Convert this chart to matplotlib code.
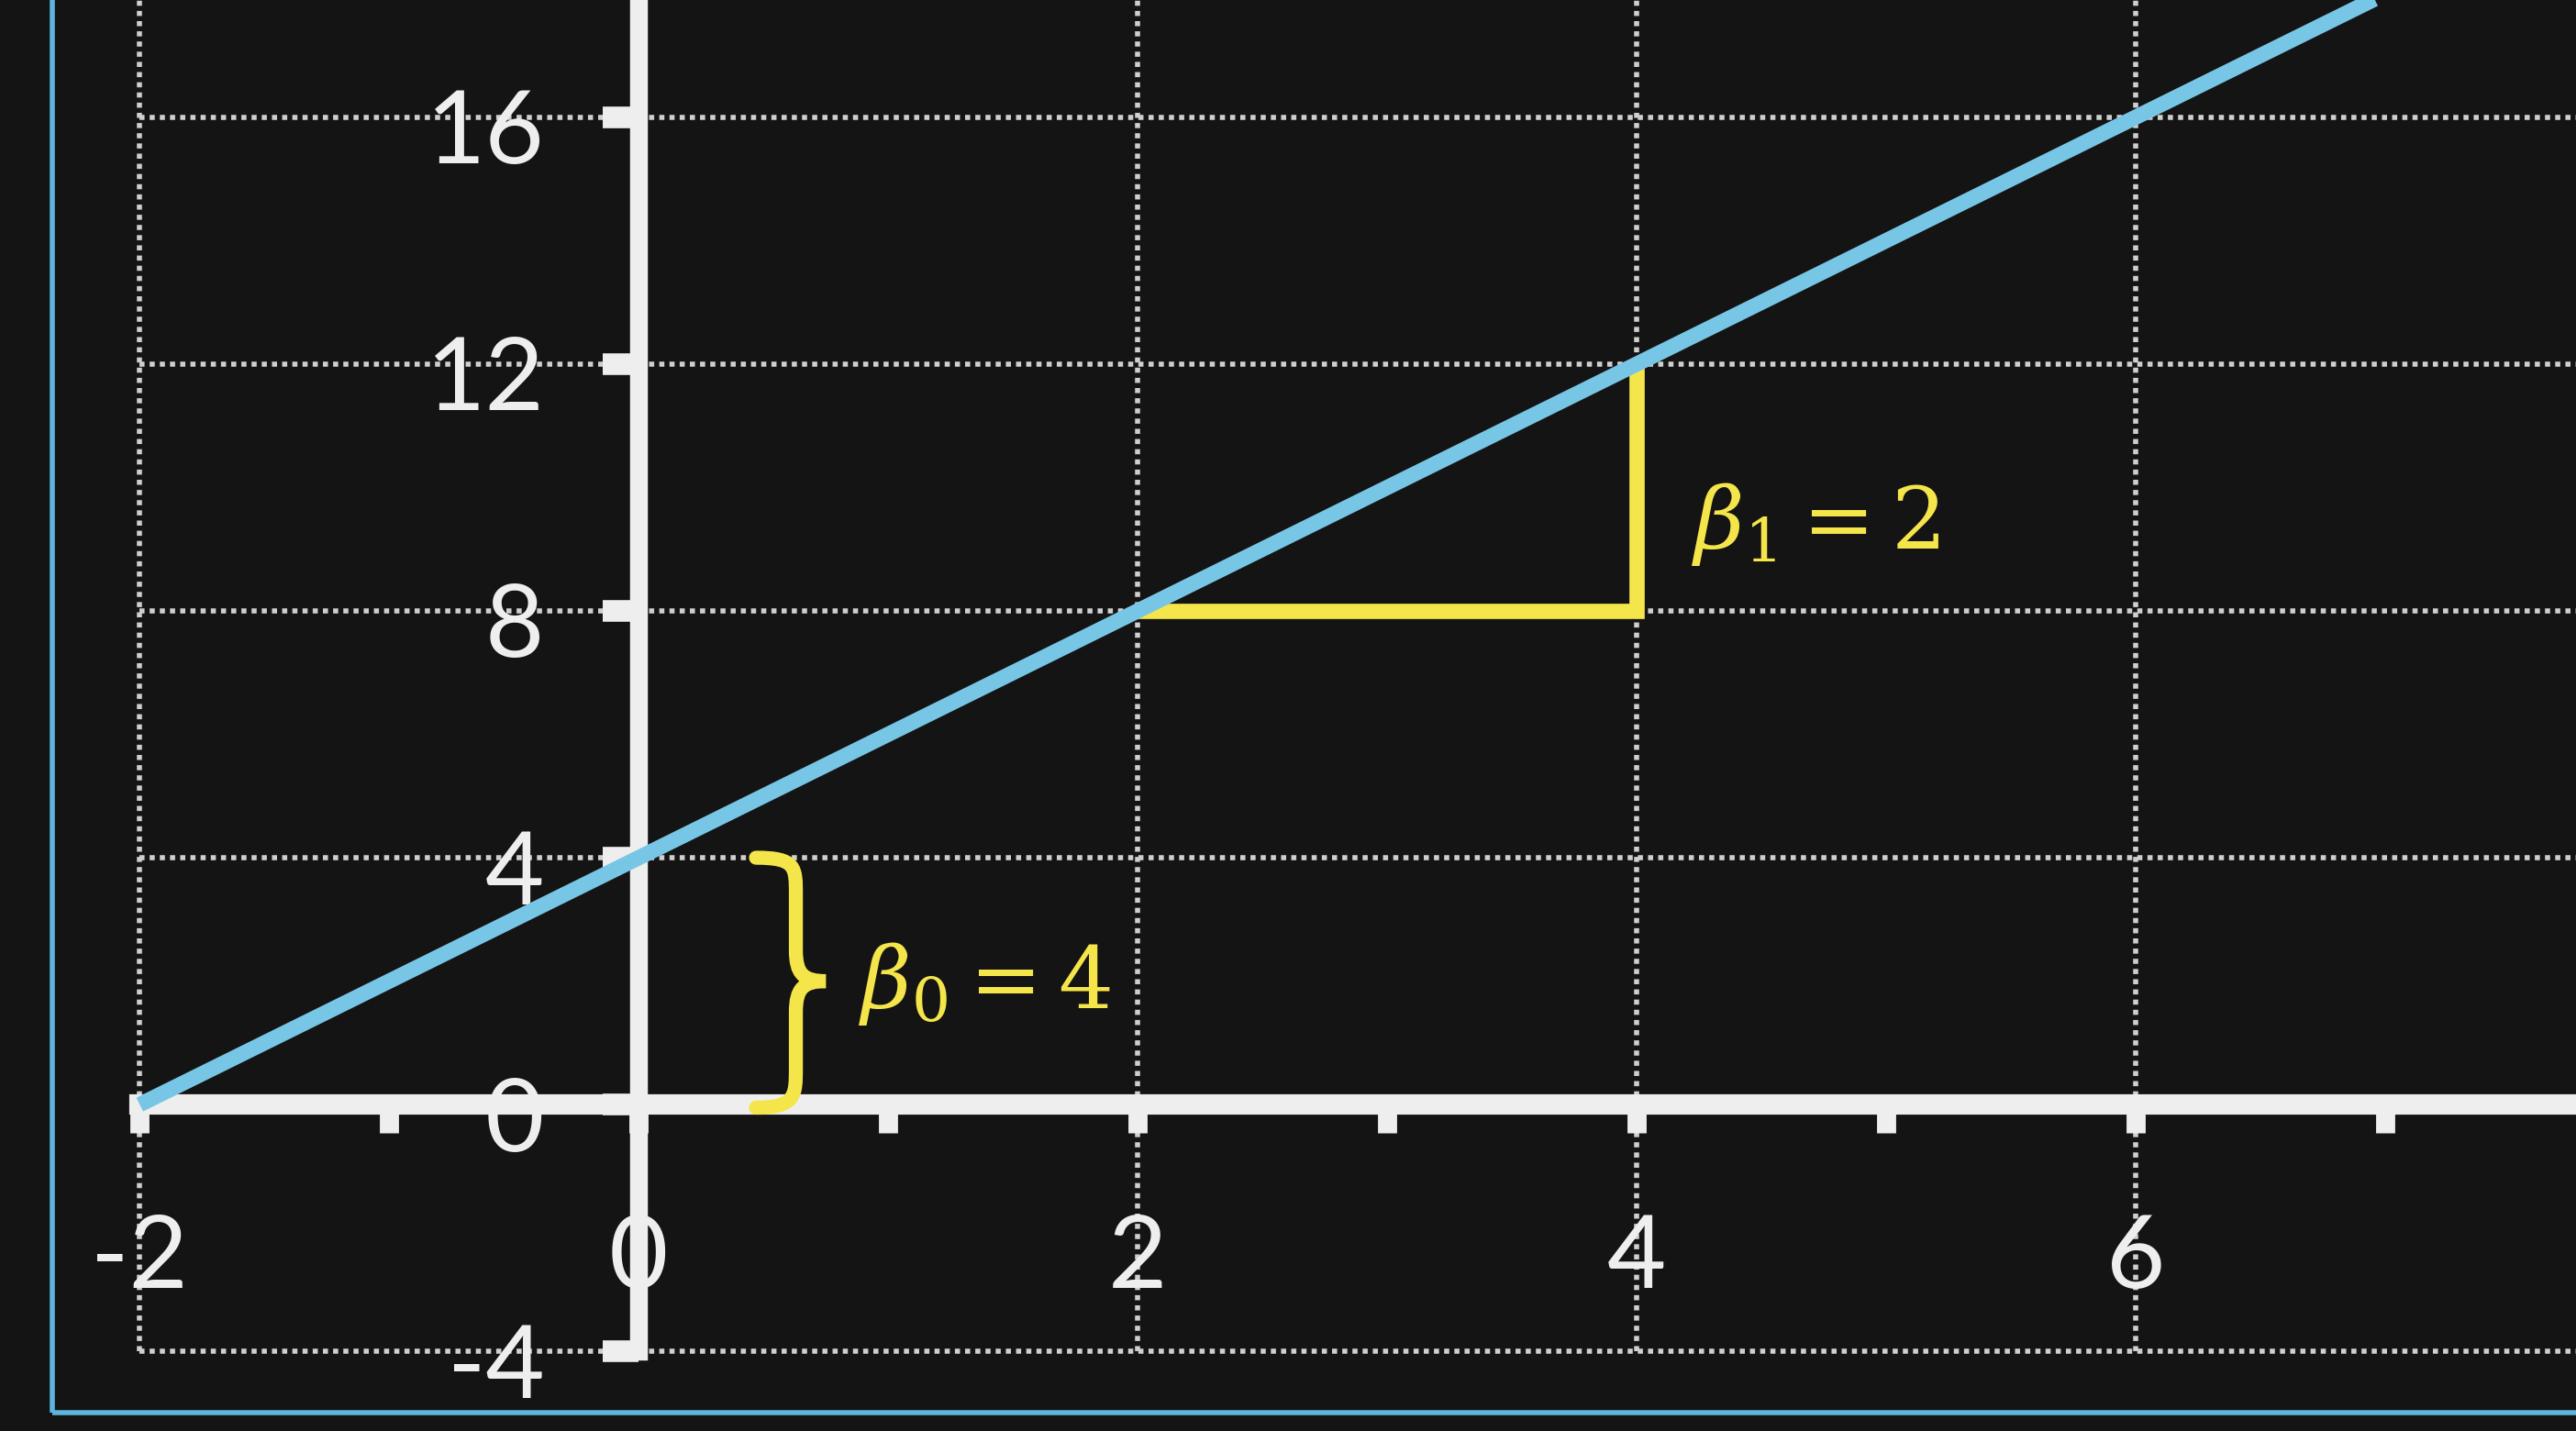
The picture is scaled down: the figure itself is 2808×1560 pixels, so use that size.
import matplotlib
matplotlib.use("Agg")
import matplotlib.pyplot as plt
from matplotlib.path import Path
from matplotlib.patches import PathPatch
from matplotlib.transforms import ScaledTranslation

b0 = 4                      # intercept
b1 = 2                      # slope
line_x = [-2, 8]            # fitted line drawn over this x range
x_major = [-2, 0, 2, 4, 6]
x_minor = [-1, 1, 3, 5, 7]
y_ticks = [-4, 0, 4, 8, 12, 16]
grid_x = [-2, 0, 2, 4, 6]
grid_y = [-4, 4, 8, 12, 16]
run_x = [2, 4]              # slope triangle
label_b0 = r"$\beta_{\mathit{0}} = 4$"
label_b1 = r"$\beta_{\mathit{1}} = 2$"

XLIM = (-2.56, 7.765)
YLIM = (-5.29, 17.9)

BG = "#141414"
CHALK = "#eeeeee"
BLUE = "#78c6e6"
FRAME = "#5db4dc"
YELLOW = "#f4e64a"
TICK_FONT = ["Lato", "DejaVu Sans"]

plt.rcParams["mathtext.fontset"] = "dejavuserif"

fig = plt.figure(figsize=(28.08, 15.6), dpi=100)
fig.patch.set_facecolor(BG)
ax = fig.add_axes([0, 0, 1, 1])
ax.set_facecolor(BG)
ax.set_xlim(*XLIM)
ax.set_ylim(*YLIM)

# dotted grid, starting at the lower-left corner (-2, -4)
ax.vlines(grid_x, grid_y[0], YLIM[1], colors="#cfcfcf", linewidth=4,
          linestyles=(0, (1, 1.0)), zorder=1)
ax.hlines(grid_y, grid_x[0], XLIM[1], colors="#cfcfcf", linewidth=4,
          linestyles=(0, (1, 1.0)), zorder=1)

# blue board frame
ax.plot([-2.35, -2.35], [-5.0, YLIM[1]], color=FRAME, linewidth=4, zorder=2,
        solid_capstyle="butt")
ax.plot([-2.35, XLIM[1]], [-5.0, -5.0], color=FRAME, linewidth=4, zorder=2,
        solid_capstyle="butt")

# axes through the origin
for side in ("top", "right"):
    ax.spines[side].set_visible(False)
ax.spines["left"].set_position(("data", 0))
ax.spines["left"].set_bounds(-4, YLIM[1])
ax.spines["bottom"].set_position(("data", 0))
ax.spines["bottom"].set_bounds(-2, XLIM[1])
ax.spines["left"].set_linewidth(14)
ax.spines["bottom"].set_linewidth(16)
for side in ("left", "bottom"):
    ax.spines[side].set_color(CHALK)
    ax.spines[side].set_zorder(3)
    ax.spines[side].set_capstyle("projecting")

ax.set_yticks(y_ticks)
ax.set_yticklabels([str(v) for v in y_ticks])
ax.set_xticks(x_major)
ax.set_xticklabels([str(v) for v in x_major])
ax.set_xticks(x_minor, minor=True)
ax.tick_params(axis="y", direction="out", length=28, width=17, colors=CHALK,
               pad=46, labelsize=80)
ax.tick_params(axis="x", which="both", direction="out", length=22, width=15,
               colors=CHALK, pad=62, labelsize=80)
for lab in ax.get_yticklabels() + ax.get_xticklabels():
    lab.set_fontfamily(TICK_FONT)
    lab.set_color(CHALK)
shift = ScaledTranslation(0, -0.1, fig.dpi_scale_trans)
for lab in ax.get_yticklabels():
    lab.set_transform(lab.get_transform() + shift)
xshift = ScaledTranslation(0, -0.02, fig.dpi_scale_trans)
for lab in ax.get_xticklabels():
    lab.set_transform(lab.get_transform() + xshift)

# fitted line y = b0 + b1 * x
ax.plot(line_x, [b0 + b1 * x for x in line_x], color=BLUE, linewidth=12,
        solid_capstyle="butt", zorder=5)

# slope triangle
y_run = b0 + b1 * run_x[0]
y_rise = b0 + b1 * run_x[1]
ax.plot([run_x[0], run_x[1], run_x[1]], [y_run, y_run, y_rise], color=YELLOW,
        linewidth=12, solid_joinstyle="miter", solid_capstyle="butt", zorder=4)
ax.text(run_x[1] + 0.22, (y_run + y_rise) / 2 - 0.6, label_b1, color=YELLOW,
        fontsize=68, ha="left", va="center", zorder=6)

# curly brace for the intercept
x0, x1, x2 = 0.47, 0.63, 0.75
mid = b0 / 2
verts = [(x0, b0),
         (x1, b0), (x1, b0 - 0.15), (x1, b0 - 0.6),
         (x1, mid + 0.5),
         (x1, mid + 0.12), (x1 + 0.03, mid), (x2, mid),
         (x1 + 0.03, mid), (x1, mid - 0.12), (x1, mid - 0.5),
         (x1, 0.6),
         (x1, 0.15), (x1, -0.05), (x0, -0.05)]
codes = ([Path.MOVETO] + [Path.CURVE4] * 3 + [Path.LINETO] + [Path.CURVE4] * 6
         + [Path.LINETO] + [Path.CURVE4] * 3)
ax.add_patch(PathPatch(Path(verts, codes), facecolor="none", edgecolor=YELLOW,
                       linewidth=11, capstyle="round", zorder=6))
ax.text(0.88, mid - 0.05, label_b0, color=YELLOW, fontsize=68, ha="left",
        va="center", zorder=6)

fig.savefig("out.png", dpi=100, facecolor=BG)
